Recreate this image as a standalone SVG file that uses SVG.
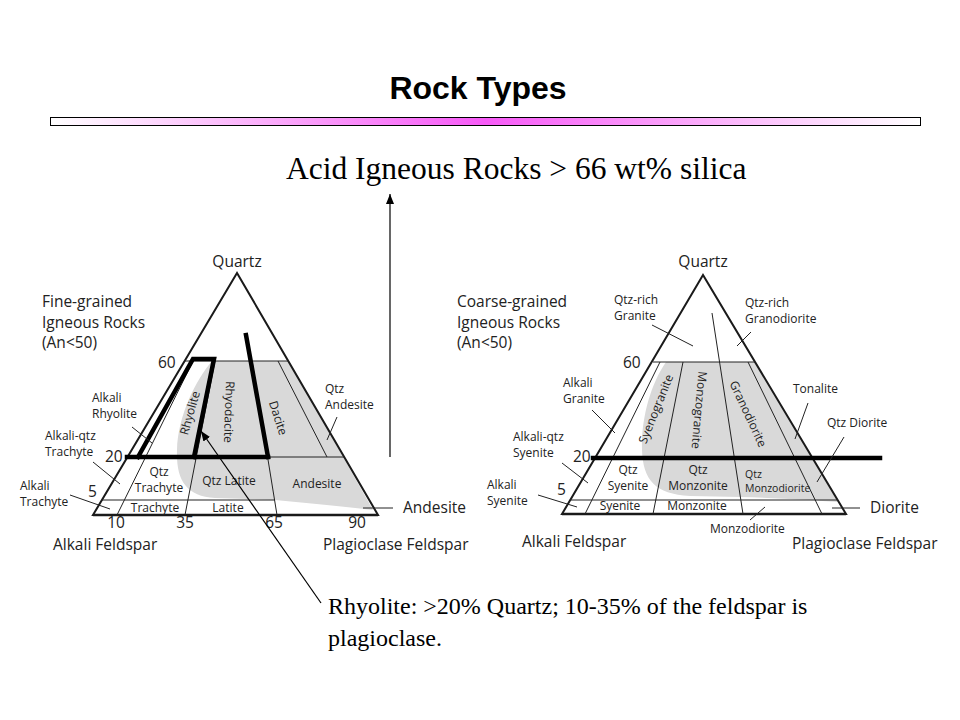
<svg xmlns="http://www.w3.org/2000/svg" width="960" height="720" viewBox="0 0 960 720">
<defs>
<linearGradient id="bar" x1="0" x2="1" y1="0" y2="0">
<stop offset="0" stop-color="#ffffff"/>
<stop offset="0.5" stop-color="#f75af7"/>
<stop offset="1" stop-color="#ffffff"/>
</linearGradient>
<marker id="arr" viewBox="0 0 10 8" refX="10" refY="4" markerWidth="10" markerHeight="8" orient="auto" markerUnits="userSpaceOnUse">
<path d="M0,0 L10,4 L0,8 z" fill="#000"/>
</marker>
</defs>
<style>
.t{font-family:"Open Sans","Noto Sans",sans-serif;fill:#222}
.lg{font-size:15.5px}
.sm{font-size:12px}
.xs{font-size:10.5px}
.m{text-anchor:middle}
.edge{fill:none;stroke:#1a1a1a;stroke-width:2}
.base{fill:none;stroke:#1a1a1a;stroke-width:2.5}
.thin{fill:none;stroke:#222;stroke-width:1}
.thick{fill:none;stroke:#000;stroke-width:4.5;stroke-linecap:square}
.gray{fill:#d9d9d9}
.serif{font-family:"Liberation Serif","Times New Roman",serif;fill:#000}
.conn{fill:none;stroke:#000;stroke-width:1.2}
</style>
<rect width="960" height="720" fill="#fff"/>

<g id="title">
<text x="478" y="99" text-anchor="middle" font-family="Liberation Sans, Arial, sans-serif" font-weight="bold" font-size="32" fill="#000">Rock Types</text>
<rect x="50.5" y="117.5" width="870" height="8" fill="url(#bar)" stroke="#000" stroke-width="1"/>
</g>

<g id="heading">
<text class="serif" x="286" y="179" font-size="31.5">Acid Igneous Rocks &gt; 66 wt% silica</text>
</g>

<g id="fine-grained-diagram">
<path class="gray" d="M212,361 C196,380 178,415 177,450 C176,480 186,496 215,498 L275,500 C310,503 345,507 373,510 L289,361 Z"/>
<polygon class="edge" points="237,273 93,515 378,515"/>
<line class="base" x1="93" y1="515" x2="378" y2="515"/>
<line class="thin" x1="184" y1="361" x2="289" y2="361"/>
<line class="thin" x1="127" y1="457" x2="344" y2="457"/>
<line class="thin" x1="102" y1="500" x2="275" y2="500"/>
<line class="thin" x1="193" y1="361" x2="117" y2="515"/>
<line class="thin" x1="215" y1="361" x2="185" y2="515"/>
<line class="thin" x1="252" y1="361" x2="277" y2="515"/>
<line class="thin" x1="278" y1="361" x2="327" y2="457"/>
<polyline class="thick" points="138,457 193,359 214,359 194,457"/>
<line class="thick" x1="127" y1="457" x2="268" y2="457"/>
<line class="thick" x1="246" y1="335" x2="268" y2="457"/>

<text class="t lg m" x="237" y="267">Quartz</text>
<text class="t lg" x="42" y="307">Fine-grained</text>
<text class="t lg" x="42" y="328">Igneous Rocks</text>
<text class="t lg" x="42" y="348">(An&lt;50)</text>
<text class="t lg" x="158" y="368">60</text>
<text class="t lg" x="105" y="462">20</text>
<text class="t lg" x="88" y="497">5</text>
<text class="t lg m" x="116" y="528">10</text>
<text class="t lg m" x="185" y="528">35</text>
<text class="t lg m" x="274" y="528">65</text>
<text class="t lg m" x="357" y="528">90</text>
<text class="t lg" x="53" y="550">Alkali Feldspar</text>
<text class="t lg" x="323" y="550">Plagioclase Feldspar</text>
<text class="t lg" x="403" y="513">Andesite</text>
<text class="t sm" x="92" y="402">Alkali</text>
<text class="t sm" x="92" y="418">Rhyolite</text>
<text class="t sm" x="45" y="440">Alkali-qtz</text>
<text class="t sm" x="45" y="456">Trachyte</text>
<text class="t sm" x="20" y="490">Alkali</text>
<text class="t sm" x="20" y="506">Trachyte</text>
<text class="t sm m" x="159" y="476">Qtz</text>
<text class="t sm m" x="159" y="492">Trachyte</text>
<text class="t sm m" x="155" y="512">Trachyte</text>
<text class="t sm m" x="228" y="512">Latite</text>
<text class="t sm m" x="229" y="485">Qtz Latite</text>
<text class="t sm m" x="317" y="488">Andesite</text>
<text class="t sm" x="325" y="393">Qtz</text>
<text class="t sm" x="325" y="409">Andesite</text>
<text class="t sm m" transform="translate(190,413) rotate(-74)" x="0" y="4">Rhyolite</text>
<text class="t sm m" transform="translate(229,412) rotate(92)" x="0" y="4">Rhyodacite</text>
<text class="t sm m" transform="translate(278,418) rotate(72)" x="0" y="4">Dacite</text>
<line class="thin" x1="132" y1="427" x2="152" y2="443"/>
<line class="thin" x1="93" y1="462" x2="120" y2="484"/>
<line class="thin" x1="70" y1="495" x2="110" y2="509"/>
<line class="thin" x1="337" y1="417" x2="327" y2="440"/>
<line class="thin" x1="363" y1="508" x2="393" y2="508"/>
</g>

<g id="coarse-grained-diagram">
<path class="gray" d="M666,362 C650,385 641,420 642,450 C643,480 655,494 690,496 L740,497 C780,498 815,500 838,502 L755,362 Z"/>
<polygon class="edge" points="703,275 562,514 846,514"/>
<line class="base" x1="562" y1="514" x2="846" y2="514"/>
<line class="thin" x1="653" y1="362" x2="755" y2="362"/>
<line class="thin" x1="593" y1="458" x2="812" y2="458"/>
<line class="thin" x1="570" y1="500" x2="838" y2="500"/>
<line class="thin" x1="660" y1="362" x2="585" y2="514"/>
<line class="thin" x1="683" y1="362" x2="653" y2="514"/>
<line class="thin" x1="712" y1="313" x2="743" y2="514"/>
<line class="thin" x1="748" y1="362" x2="822" y2="514"/>
<line class="thick" x1="593" y1="458" x2="880" y2="458"/>

<text class="t lg m" x="703" y="267">Quartz</text>
<text class="t lg" x="457" y="307">Coarse-grained</text>
<text class="t lg" x="457" y="328">Igneous Rocks</text>
<text class="t lg" x="457" y="348">(An&lt;50)</text>
<text class="t lg" x="623" y="368">60</text>
<text class="t lg" x="573" y="462">20</text>
<text class="t lg" x="557" y="495">5</text>
<text class="t lg" x="522" y="547">Alkali Feldspar</text>
<text class="t lg" x="792" y="549">Plagioclase Feldspar</text>
<text class="t lg" x="870" y="513">Diorite</text>
<text class="t sm" x="614" y="304">Qtz-rich</text>
<text class="t sm" x="614" y="320">Granite</text>
<text class="t sm" x="745" y="307">Qtz-rich</text>
<text class="t sm" x="745" y="323">Granodiorite</text>
<text class="t sm" x="563" y="387">Alkali</text>
<text class="t sm" x="563" y="403">Granite</text>
<text class="t sm" x="513" y="441">Alkali-qtz</text>
<text class="t sm" x="513" y="457">Syenite</text>
<text class="t sm" x="487" y="489">Alkali</text>
<text class="t sm" x="487" y="505">Syenite</text>
<text class="t sm" x="793" y="393">Tonalite</text>
<text class="t sm" x="827" y="427">Qtz Diorite</text>
<text class="t sm" x="710" y="533">Monzodiorite</text>
<text class="t sm m" x="628" y="474">Qtz</text>
<text class="t sm m" x="628" y="490">Syenite</text>
<text class="t sm m" x="698" y="474">Qtz</text>
<text class="t sm m" x="698" y="490">Monzonite</text>
<text class="t xs" x="745" y="478">Qtz</text>
<text class="t xs" x="745" y="492">Monzodiorite</text>
<text class="t sm m" x="620" y="510">Syenite</text>
<text class="t sm m" x="697" y="510">Monzonite</text>
<text class="t sm m" transform="translate(656,409) rotate(-68)" x="0" y="4">Syenogranite</text>
<text class="t sm m" transform="translate(699,410) rotate(95)" x="0" y="4">Monzogranite</text>
<text class="t sm m" transform="translate(748,414) rotate(65)" x="0" y="4">Granodiorite</text>
<line class="thin" x1="652" y1="325" x2="693" y2="346"/>
<line class="thin" x1="751" y1="332" x2="737" y2="346"/>
<line class="thin" x1="592" y1="410" x2="615" y2="433"/>
<line class="thin" x1="562" y1="463" x2="588" y2="483"/>
<line class="thin" x1="538" y1="495" x2="577" y2="507"/>
<line class="thin" x1="808" y1="403" x2="795" y2="439"/>
<line class="thin" x1="844" y1="437" x2="817" y2="482"/>
<line class="thin" x1="750" y1="520" x2="765" y2="507"/>
<line class="thin" x1="832" y1="508" x2="860" y2="508"/>
</g>

<g id="rhyolite-note">
<text class="serif" x="328" y="614" font-size="24">Rhyolite: &gt;20% Quartz; 10-35% of the feldspar is</text>
<text class="serif" x="328" y="646" font-size="24">plagioclase.</text>
</g>

<g id="connectors">
<line class="conn" x1="390" y1="457" x2="390" y2="194" marker-end="url(#arr)"/>
<line class="conn" x1="321" y1="603" x2="201" y2="431" marker-end="url(#arr)"/>
</g>
</svg>
